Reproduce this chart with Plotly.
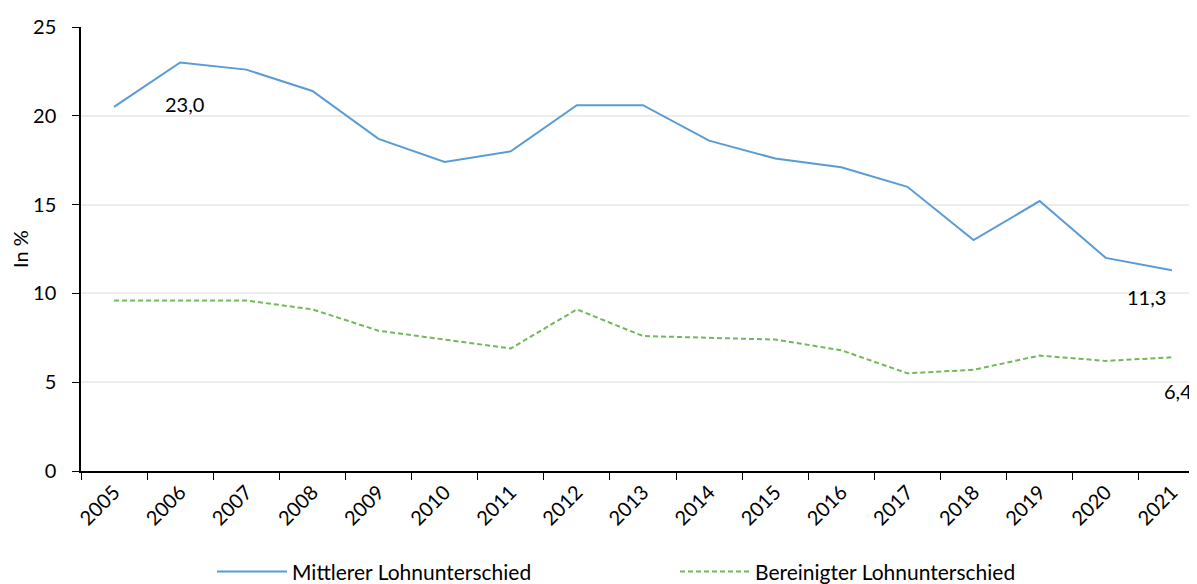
import plotly.graph_objects as go

years = [str(y) for y in range(2005, 2022)]
mittlerer = [20.5, 23.0, 22.6, 21.4, 18.7, 17.4, 18.0, 20.6, 20.6, 18.6, 17.6, 17.1, 16.0, 13.0, 15.2, 12.0, 11.3]
bereinigt = [9.6, 9.6, 9.6, 9.1, 7.9, 7.4, 6.9, 9.1, 7.6, 7.5, 7.4, 6.8, 5.5, 5.7, 6.5, 6.2, 6.4]
name_m = "Mittlerer Lohnunterschied"
name_b = "Bereinigter Lohnunterschied"
y_ticks = [0, 5, 10, 15, 20, 25]

FONT = "Lato"

fig = go.Figure()
fig.add_trace(go.Scatter(x=years, y=mittlerer, mode="lines", name=name_m,
                         line=dict(color="#5B9BD5", width=2)))
fig.add_trace(go.Scatter(x=years, y=bereinigt, mode="lines", name=name_b,
                         line=dict(color="#70B85A", width=2, dash="5px,3px")))

def fmt(v):
    return f"{v:.1f}".replace(".", ",")

annots = [
    (1, mittlerer[1], 4, -41),
    (len(years) - 1, mittlerer[-1], -25, -27),
    (len(years) - 1, bereinigt[-1], 6, -34),
]
for x, y, xs, ys in annots:
    fig.add_annotation(x=x, y=y, xref="x", yref="y", text=fmt(y), showarrow=False,
                       xshift=xs, yshift=ys,
                       font=dict(family=FONT, size=20, color="#000000"))

# page body has an 8px margin: figure sits at (8, 8)
fig.update_layout(
    width=1189, height=576,
    margin=dict(l=73, r=0, t=19, b=113, autoexpand=False),
    plot_bgcolor="white", paper_bgcolor="white",
    font=dict(family=FONT, size=20, color="#000000"),
    showlegend=True,
    legend=dict(orientation="h", x=(212 - 81) / 1116, xanchor="left", y=-0.227, yanchor="middle",
                itemwidth=70, font=dict(size=21), entrywidth=378),
    xaxis=dict(type="category", range=[-0.5, 16.38], tickson="boundaries",
               ticks="outside", ticklen=7, tickcolor="#000000", tickwidth=1,
               showline=True, linecolor="#000000", linewidth=1.5,
               showgrid=False, tickangle=-45, zeroline=False),
    yaxis=dict(range=[0, 25], tickvals=y_ticks, ticks="outside", ticklen=7,
               tickcolor="#000000", showline=True, linecolor="#000000", linewidth=1.5,
               showgrid=True, gridcolor="#EDEDED", gridwidth=2, zeroline=False,
               ticklabelstandoff=12,
               title=dict(text="In %", standoff=10, font=dict(size=20))),
)

fig.write_html("out.html")
